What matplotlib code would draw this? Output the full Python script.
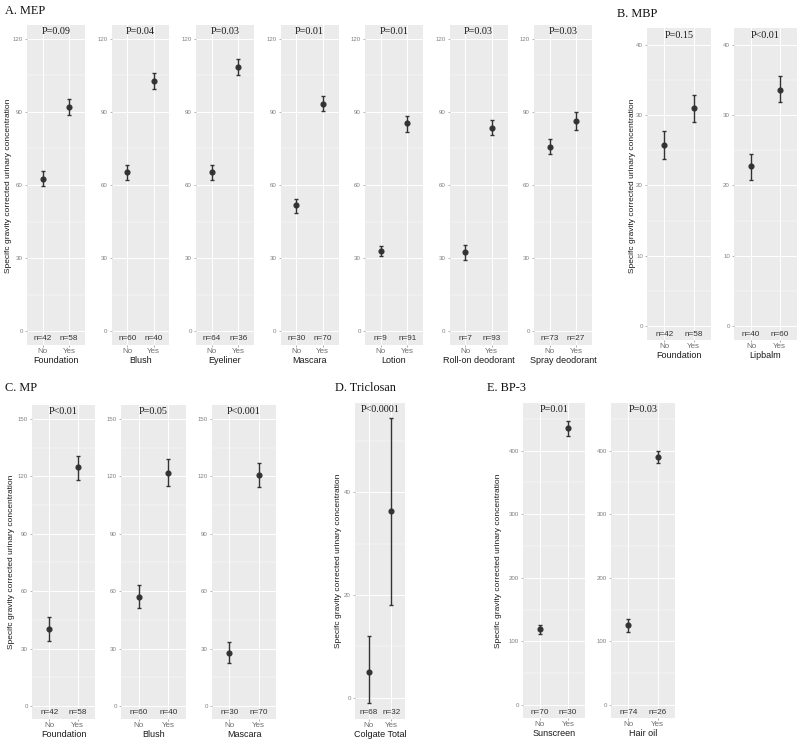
import matplotlib.pyplot as plt
from matplotlib.ticker import MultipleLocator
from matplotlib.transforms import blended_transform_factory

W, H = 800, 749
plt.rcParams['font.family'] = ['Liberation Sans', 'DejaVu Sans']

YLABEL = 'Specifc gravity corrected urinary concentration'
groups_x = ['No', 'Yes']

# A. MEP
mep_items = ['Foundation', 'Blush', 'Eyeliner', 'Mascara', 'Lotion',
             'Roll-on deodorant', 'Spray deodorant']
mep_p = ['P=0.09', 'P=0.04', 'P=0.03', 'P=0.01', 'P=0.01', 'P=0.03', 'P=0.03']
mep_no = [62.6, 65.3, 65.3, 51.7, 32.9, 32.4, 75.8]
mep_no_lo = [59.5, 62.2, 62.2, 48.7, 30.9, 29.2, 72.8]
mep_no_hi = [65.6, 68.3, 68.3, 54.4, 35.1, 35.4, 78.9]
mep_yes = [92.1, 102.7, 108.4, 93.4, 85.3, 83.6, 86.1]
mep_yes_lo = [88.7, 99.3, 105.0, 90.2, 81.9, 80.5, 82.6]
mep_yes_hi = [95.2, 106.1, 111.6, 96.6, 88.4, 86.8, 89.8]
mep_n_no = [42, 60, 64, 30, 9, 7, 73]
mep_n_yes = [58, 40, 36, 70, 91, 93, 27]

# B. MBP
mbp_items = ['Foundation', 'Lipbalm']
mbp_p = ['P=0.15', 'P<0.01']
mbp_no = [25.8, 22.7]
mbp_no_lo = [23.8, 20.8]
mbp_no_hi = [27.8, 24.5]
mbp_yes = [31.0, 33.6]
mbp_yes_lo = [29.0, 31.8]
mbp_yes_hi = [32.8, 35.5]
mbp_n_no = [42, 40]
mbp_n_yes = [58, 60]

# C. MP
mp_items = ['Foundation', 'Blush', 'Mascara']
mp_p = ['P<0.01', 'P=0.05', 'P<0.001']
mp_no = [40.3, 57.2, 27.9]
mp_no_lo = [34.2, 51.1, 22.7]
mp_no_hi = [46.4, 63.4, 33.2]
mp_yes = [124.8, 121.8, 120.6]
mp_yes_lo = [118.3, 114.8, 114.5]
mp_yes_hi = [130.9, 129.3, 127.0]
mp_n_no = [42, 60, 30]
mp_n_yes = [58, 40, 70]

# D. Triclosan
tcs_items = ['Colgate Total']
tcs_p = ['P<0.0001']
tcs_no = [5.0]
tcs_no_lo = [-1.0]
tcs_no_hi = [12.0]
tcs_yes = [36.3]
tcs_yes_lo = [18.1]
tcs_yes_hi = [54.4]
tcs_n_no = [68]
tcs_n_yes = [32]

# E. BP-3
bp3_items = ['Sunscreen', 'Hair oil']
bp3_p = ['P=0.01', 'P=0.03']
bp3_no = [119.0, 125.8]
bp3_no_lo = [111.7, 115.3]
bp3_no_hi = [125.8, 134.7]
bp3_yes = [436.2, 390.6]
bp3_yes_lo = [423.6, 380.0]
bp3_yes_hi = [447.2, 400.0]
bp3_n_no = [70, 74]
bp3_n_yes = [30, 26]

fig = plt.figure(figsize=(W / 100, H / 100), dpi=100)


def px_axes(left, top, right, bottom):
    return fig.add_axes([left / W, 1 - bottom / H, (right - left) / W, (bottom - top) / H])


def panel(box, item, p_text, means, lo, hi, counts, ylim, ystep):
    ax = px_axes(*box)
    ph = box[3] - box[1]
    ax.set_facecolor('#EBEBEB')
    for s in ax.spines.values():
        s.set_visible(False)
    ax.set_xlim(0.4, 2.6)
    ax.set_ylim(*ylim)
    ax.yaxis.set_major_locator(MultipleLocator(ystep))
    ax.yaxis.set_minor_locator(MultipleLocator(ystep / 2))
    ax.set_xticks([1, 2])
    ax.set_xticklabels(groups_x)
    ax.grid(True, which='major', color='white', lw=0.7)
    ax.grid(True, which='minor', axis='y', color='white', lw=0.35)
    ax.set_axisbelow(True)
    ax.tick_params(axis='y', which='major', labelsize=4.4, colors='#808080',
                   length=1.5, width=0.4, pad=1.5)
    ax.tick_params(axis='y', which='minor', length=0)
    ax.tick_params(axis='x', labelsize=5.8, colors='#6E6E6E', length=1.5,
                   width=0.4, pad=0.8)
    ax.set_xlabel(item, fontsize=6.5, color='#1A1A1A', labelpad=0.5)
    x = [1, 2]
    yerr = [[m - l for m, l in zip(means, lo)], [h - m for m, h in zip(means, hi)]]
    ax.errorbar(x, means, yerr=yerr, fmt='o', color='#333333', ms=3.4,
                elinewidth=1.0, capsize=1.6, capthick=1.0)
    tr = blended_transform_factory(ax.transData, ax.transAxes)
    for xi, n in zip(x, counts):
        ax.text(xi, 6 / ph, 'n=%d' % n, transform=tr, ha='center', va='center',
                fontsize=5.9, color='#333333')
    ax.text(0.5, 1 - 7 / ph, p_text, transform=ax.transAxes, ha='center',
            va='center', fontsize=7.3, family=['Liberation Serif', 'DejaVu Serif'],
            color='#1A1A1A')
    return ax


def group(boxes, items, ps, no, no_lo, no_hi, yes, yes_lo, yes_hi, n_no, n_yes,
          ylim, ystep):
    for i, box in enumerate(boxes):
        panel(box, items[i], ps[i], [no[i], yes[i]], [no_lo[i], yes_lo[i]],
              [no_hi[i], yes_hi[i]], [n_no[i], n_yes[i]], ylim, ystep)


def title(x, y, s):
    fig.text(x / W, 1 - y / H, s, fontsize=8.8, family=['Liberation Serif', 'DejaVu Serif'],
             ha='left', va='center', color='#111111')


def ylab(x, y):
    fig.text(x / W, 1 - y / H, YLABEL, rotation=90, fontsize=6.0, ha='center',
             va='center', color='#1A1A1A')


# layout in pixels (left, top, right, bottom)
mep_boxes = [(27 + i * 84.5, 25, 85 + i * 84.5, 345) for i in range(7)]
mbp_boxes = [(647, 28, 711, 340), (734, 28, 797, 340)]
mp_boxes = [(32, 405, 95, 719), (121, 405, 186, 719), (212, 405, 276, 719)]
tcs_boxes = [(355, 403, 405, 719)]
bp3_boxes = [(523, 403, 585, 718), (611, 403, 675, 718)]

group(mep_boxes, mep_items, mep_p, mep_no, mep_no_lo, mep_no_hi, mep_yes,
      mep_yes_lo, mep_yes_hi, mep_n_no, mep_n_yes, (-5.7, 125.7), 30)
group(mbp_boxes, mbp_items, mbp_p, mbp_no, mbp_no_lo, mbp_no_hi, mbp_yes,
      mbp_yes_lo, mbp_yes_hi, mbp_n_no, mbp_n_yes, (-2.0, 42.4), 10)
group(mp_boxes, mp_items, mp_p, mp_no, mp_no_lo, mp_no_hi, mp_yes,
      mp_yes_lo, mp_yes_hi, mp_n_no, mp_n_yes, (-6.8, 157.3), 30)
group(tcs_boxes, tcs_items, tcs_p, tcs_no, tcs_no_lo, tcs_no_hi, tcs_yes,
      tcs_yes_lo, tcs_yes_hi, tcs_n_no, tcs_n_yes, (-4.1, 57.3), 20)
group(bp3_boxes, bp3_items, bp3_p, bp3_no, bp3_no_lo, bp3_no_hi, bp3_yes,
      bp3_yes_lo, bp3_yes_hi, bp3_n_no, bp3_n_yes, (-20.4, 475), 100)

title(5, 11, 'A. MEP')
title(617, 14, 'B. MBP')
title(5, 388, 'C. MP')
title(335, 388, 'D. Triclosan')
title(487, 388, 'E. BP-3')

ylab(9, 186)
ylab(632, 186)
ylab(12, 562)
ylab(338, 561)
ylab(498, 561)

fig.savefig('out.png', dpi=100, facecolor='white')
